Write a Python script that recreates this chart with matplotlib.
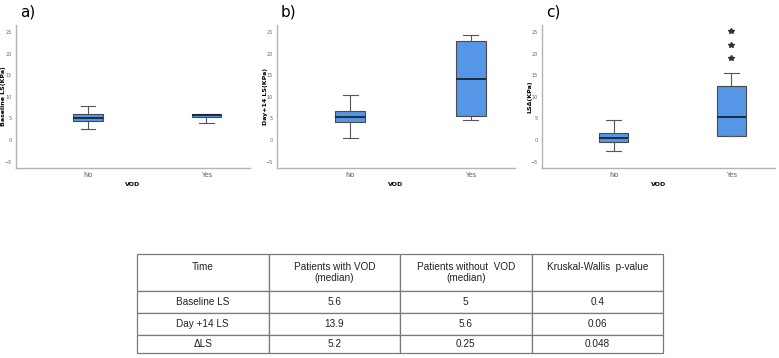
import matplotlib.pyplot as plt

# dados dos boxplots
grupos = ["No", "Yes"]
rotulos_y = ["Baseline LS(KPa)", "Day+14 LS(KPa)", "LSΔ(KPa)"]
letras = ["a)", "b)", "c)"]

# [whisker baixo, q1, mediana, q3, whisker alto]
baseline_no = [2.5, 4.3, 5.1, 6.0, 7.9]
baseline_yes = [4.0, 5.2, 5.7, 6.1, 6.1]
dia14_no = [0.5, 4.2, 5.3, 6.7, 10.5]
dia14_yes = [4.7, 5.5, 14.0, 22.8, 24.2]
delta_no = [-2.5, -0.4, 0.4, 1.7, 4.6]
delta_yes = [0.8, 0.8, 5.2, 12.5, 15.5]
outliers_delta_yes = [18.9, 22.0, 25.2]

# tabela
colunas = ["Time\n ", "Patients with VOD\n(median)", "Patients without  VOD\n(median)",
           "Kruskal-Wallis  p-value\n "]
linhas = [
    ["Baseline LS", "5.6", "5", "0.4"],
    ["Day +14 LS", "13.9", "5.6", "0.06"],
    ["ΔLS", "5.2", "0.25", "0.048"],
]


def monta_stats(v, fliers=()):
    return {"whislo": v[0], "q1": v[1], "med": v[2], "q3": v[3], "whishi": v[4],
            "fliers": list(fliers)}


paineis = [
    [monta_stats(baseline_no), monta_stats(baseline_yes)],
    [monta_stats(dia14_no), monta_stats(dia14_yes)],
    [monta_stats(delta_no), monta_stats(delta_yes, outliers_delta_yes)],
]

fig = plt.figure(figsize=(7.79, 3.58), dpi=100)

posicoes = [(16, 234), (277, 238), (542, 233)]
cinza = "#b4b4b4"

for i, stats in enumerate(paineis):
    x0, w = posicoes[i]
    ax = fig.add_axes([x0 / 779, 1 - 168 / 358, w / 779, 143 / 358])
    ax.bxp(stats, positions=[1, 2], widths=0.25, patch_artist=True,
           boxprops=dict(facecolor="#5596e6", edgecolor="#4a4a4a", linewidth=0.8),
           medianprops=dict(color="#1c2233", linewidth=1.3),
           whiskerprops=dict(color="#555555", linewidth=0.8),
           capprops=dict(color="#555555", linewidth=0.8),
           capwidths=0.125,
           flierprops=dict(marker="*", markersize=4, markerfacecolor="#333333",
                           markeredgecolor="#333333", linestyle="none"))
    ax.set_xlim(0.39, 2.37)
    ax.set_ylim(-6.5, 26.6)
    ax.set_yticks([-5, 0, 5, 10, 15, 20, 25])
    ax.set_xticks([1, 2])
    ax.set_xticklabels(grupos)
    ax.tick_params(length=0)
    ax.tick_params(axis="y", labelsize=3.5, labelcolor="#666666", pad=3)
    ax.tick_params(axis="x", labelsize=5, labelcolor="#666666", pad=3)
    for lado in ["top", "right"]:
        ax.spines[lado].set_visible(False)
    for lado in ["left", "bottom"]:
        ax.spines[lado].set_color(cinza)
        ax.spines[lado].set_linewidth(1)
    ax.set_ylabel(rotulos_y[i], fontsize=4.5, fontweight="bold")
    ax.yaxis.set_label_coords(-9.5 / w, 0.5)
    ax.set_xlabel("VOD", fontsize=4.5, fontweight="bold", labelpad=3)
    fig.text((x0 + 4) / 779, 1 - 12 / 358, letras[i], fontsize=11, va="center")

# tabela embaixo
ax_t = fig.add_axes([137 / 779, 1 - 353 / 358, 526 / 779, 99 / 358])
ax_t.axis("off")
tab = ax_t.table(cellText=linhas, colLabels=colunas, cellLoc="center",
                 bbox=[0, 0, 1, 1])
tab.auto_set_font_size(False)
alturas = [37, 22, 22, 18]
for (r, c), cell in tab.get_celld().items():
    cell.set_edgecolor("#7a7a7a")
    cell.set_linewidth(0.9)
    cell.set_height(alturas[r] / 99)
    cell.get_text().set_fontsize(7.2)
    cell.get_text().set_color("#222222")
    cell.get_text().set_fontfamily("Liberation Sans")

plt.savefig("out.png", dpi=100)
